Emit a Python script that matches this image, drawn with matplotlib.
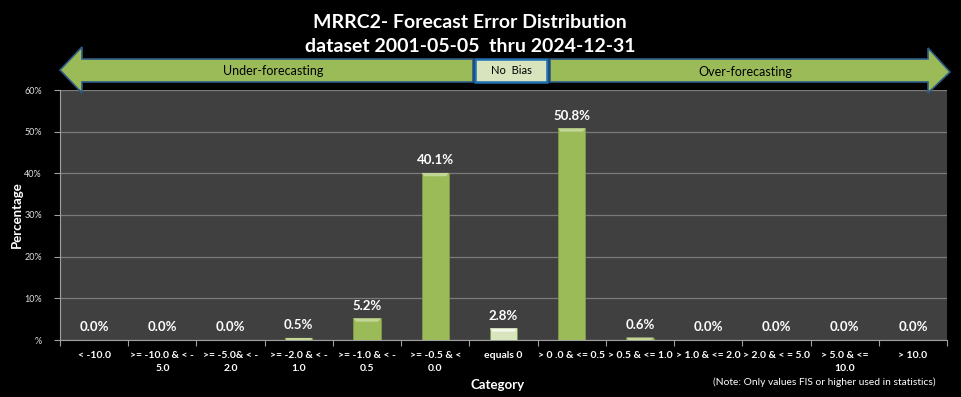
import numpy as np
import matplotlib
matplotlib.use("Agg")
import matplotlib.pyplot as plt
from matplotlib.patches import Polygon, Rectangle

plt.rcParams['font.family'] = ['Lato', 'DejaVu Sans']

categories = ['< -10.0', '>= -10.0 & < -\n5.0', '>= -5.0& < -\n2.0', '>= -2.0 & < -\n1.0',
              '>= -1.0 & < -\n0.5', '>= -0.5 & <\n0.0', 'equals 0', '> 0 .0 & <= 0.5',
              '> 0.5 & <= 1.0', '> 1.0 & <= 2.0', '> 2.0 & < = 5.0', '> 5.0 & <=\n10.0', '> 10.0']
values = [0.0, 0.0, 0.0, 0.5, 5.2, 40.1, 2.8, 50.8, 0.6, 0.0, 0.0, 0.0, 0.0]
yticks = [0, 10, 20, 30, 40, 50, 60]
ytick_labels = ['%', '10%', '20%', '30%', '40%', '50%', '60%']

W, H = 961, 397
fig = plt.figure(figsize=(W / 100, H / 100), dpi=100, facecolor='black')

def fx(px):
    return px / W

def fy(py):
    return 1 - py / H

ax = fig.add_axes([fx(60), fy(340), fx(947) - fx(60), fy(90) - fy(340)])
ax.set_facecolor('#404040')

n = len(categories)
x = np.arange(n)
colors = ['#9bbb59'] * n
colors[6] = '#d7e4bd'
bars = ax.bar(x, values, width=0.4, color=colors, edgecolor='#7f9a48', linewidth=0.6, zorder=3)
# lighter top bevel on each bar
for b, c in zip(bars, colors):
    h = b.get_height()
    if h > 0.3:
        top = '#c2d696' if c == '#9bbb59' else '#f4f8ec'
        x0, w = b.get_x(), b.get_width()
        ax.add_patch(Polygon([(x0, h), (x0 + w, h), (x0 + w * 0.9, h - 0.8), (x0 + w * 0.1, h - 0.8)],
                             closed=True, facecolor=top, edgecolor='none', zorder=4))

for xi, v in zip(x, values):
    ax.text(xi, v + 1.6, f'{v:.1f}%', ha='center', va='bottom', color='white',
            fontsize=9.5, fontweight='bold', zorder=5)

ax.set_xlim(-0.5, n - 0.5)
ax.set_ylim(0, 60)
ax.set_yticks(yticks)
ax.set_yticklabels(ytick_labels, color='#e0e0e0', fontsize=6.5)
ax.yaxis.grid(True, color='#7a7a7a', linewidth=0.9, zorder=1)
ax.set_axisbelow(True)

ax.set_xticks(x)
ax.set_xticklabels(categories, color='white', fontsize=7.5, fontweight='bold', linespacing=1.5)
ax.tick_params(axis='x', length=0, pad=8)
ax.set_xticks(np.arange(n + 1) - 0.5, minor=True)
ax.tick_params(axis='x', which='minor', length=4, color='#a0a0a0', width=0.8)
ax.tick_params(axis='y', length=4, color='#a0a0a0', width=0.8, pad=9)

for s in ['top', 'right']:
    ax.spines[s].set_visible(False)
for s in ['left', 'bottom']:
    ax.spines[s].set_color('#a0a0a0')
    ax.spines[s].set_linewidth(0.8)

fig.text(fx(498), fy(385), 'Category', ha='center', va='center', color='white',
         fontsize=9.5, fontweight='bold')
fig.text(fx(17), fy(215), 'Percentage', ha='center', va='center', color='white',
         fontsize=9.5, fontweight='bold', rotation=90)
fig.text(fx(824), fy(382), '(Note: Only values FIS or higher used in statistics)',
         ha='center', va='center', color='white', fontsize=7.4)

fig.text(fx(470), fy(22), 'MRRC2- Forecast Error Distribution', ha='center', va='center',
         color='white', fontsize=14, fontweight='bold')
fig.text(fx(470), fy(46), 'dataset 2001-05-05  thru 2024-12-31', ha='center', va='center',
         color='white', fontsize=14, fontweight='bold')

# bias arrows
left_arrow = [(60, 70), (82, 47), (82, 59), (473, 59), (473, 82), (82, 82), (82, 93)]
right_arrow = [(550, 59), (928, 59), (928, 48), (950, 72), (928, 93), (928, 82), (550, 82)]
for pts in (left_arrow, right_arrow):
    fig.patches.append(Polygon([(fx(a), fy(b)) for a, b in pts], closed=True,
                               transform=fig.transFigure, facecolor='#9bbb59',
                               edgecolor='#2e5a87', linewidth=1.2))
fig.patches.append(Rectangle((fx(475), fy(82)), fx(547) - fx(475), fy(59) - fy(82),
                             transform=fig.transFigure, facecolor='#d7e4bd',
                             edgecolor='#1f6fb5', linewidth=1.8))
fig.text(fx(273), fy(71), 'Under-forecasting', ha='center', va='center', color='black', fontsize=9)
fig.text(fx(511), fy(71), 'No  Bias', ha='center', va='center', color='black', fontsize=8)
fig.text(fx(745), fy(72), 'Over-forecasting', ha='center', va='center', color='black', fontsize=9)

fig.savefig('out.png', dpi=100, facecolor='black')
